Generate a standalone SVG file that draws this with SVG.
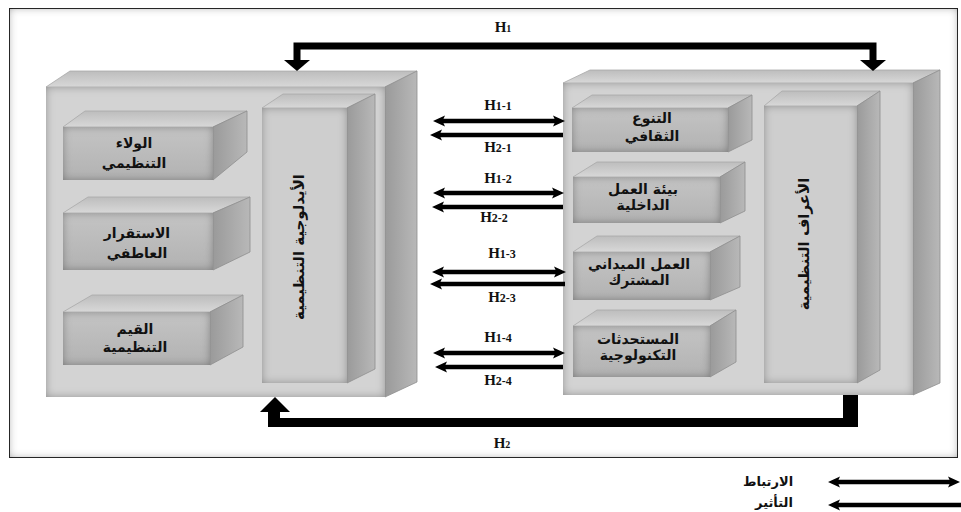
<svg xmlns="http://www.w3.org/2000/svg" width="961" height="512" viewBox="0 0 961 512">
<defs>
<filter id="inner" x="0" y="0" width="1" height="1">
<feGaussianBlur in="SourceAlpha" stdDeviation="4" result="b"/>
<feComposite in="SourceAlpha" in2="b" operator="arithmetic" k2="1" k3="-1" result="edge"/>
<feFlood flood-color="#000" flood-opacity="0.6"/>
<feComposite in2="edge" operator="in" result="sh"/>
<feMerge><feMergeNode in="SourceGraphic"/><feMergeNode in="sh"/></feMerge>
</filter>
<filter id="frameSh" x="0" y="0" width="1" height="1">
<feGaussianBlur in="SourceAlpha" stdDeviation="5" result="b"/>
<feComposite in="SourceAlpha" in2="b" operator="arithmetic" k2="1" k3="-1" result="edge"/>
<feFlood flood-color="#000" flood-opacity="0.8"/>
<feComposite in2="edge" operator="in" result="sh"/>
<feMerge><feMergeNode in="SourceGraphic"/><feMergeNode in="sh"/></feMerge>
</filter>
<linearGradient id="topG" x1="0" y1="0" x2="0" y2="1">
<stop offset="0" stop-color="#bdbdbd"/><stop offset="1" stop-color="#d8d8d8"/>
</linearGradient>
<linearGradient id="sideG" x1="0" y1="0" x2="1" y2="0">
<stop offset="0" stop-color="#9a9a9a"/><stop offset="1" stop-color="#b8b8b8"/>
</linearGradient>
<linearGradient id="smallFront" x1="0" y1="0" x2="0" y2="1">
<stop offset="0" stop-color="#c4c4c4"/><stop offset="1" stop-color="#b2b2b2"/>
</linearGradient>
<marker id="ah" viewBox="0 0 12 12" refX="4" refY="6" markerWidth="12" markerHeight="12" orient="auto-start-reverse" markerUnits="userSpaceOnUse">
<path d="M0,0.5 L12,6 L0,11.5 L2.5,6 z" fill="#000"/>
</marker>
<style>
.front{fill:#d3d3d3;filter:url(#inner)}
.pfront{fill:#cecece;filter:url(#inner)}
.sfront{fill:url(#smallFront);filter:url(#inner)}
.top{fill:url(#topG);stroke:#a8a8a8;stroke-width:0.8}
.side{fill:url(#sideG);stroke:#8e8e8e;stroke-width:0.8}
.ar{font-family:"DejaVu Sans","Noto Sans",sans-serif;font-weight:bold;font-size:14px;fill:#111;text-anchor:middle}
.vt{font-family:"DejaVu Sans","Noto Sans",sans-serif;font-weight:bold;font-size:15px;fill:#111;text-anchor:middle;dominant-baseline:central}
.h{font-family:"Liberation Serif",serif;font-weight:bold;font-size:15px;fill:#111;text-anchor:middle}
.thin{stroke:#000;stroke-width:4.5;fill:none}
</style>
</defs>
<rect x="0" y="0" width="961" height="512" fill="#fff"/>
<rect id="frame" x="9" y="8" width="949" height="450" fill="#fff" stroke="#333" stroke-width="2" filter="url(#frameSh)"/>

<g id="left-box">
<polygon class="top" points="46,87 70,71 417,71 385,87"/>
<polygon class="side" points="385,87 417,71 417,382 385,397"/>
<rect class="front" x="46" y="87" width="339" height="310"/>
</g>
<g id="left-pillar">
<polygon class="top" points="262,108 283,94 375,94 347,108"/>
<polygon class="side" points="347,108 375,94 375,369 347,383"/>
<rect class="pfront" x="262" y="108" width="85" height="275"/>
<text class="vt" transform="translate(299,247) rotate(-90)">الأيدلوجية التنظيمية</text>
</g>
<g id="loyalty">
<polygon class="top" points="63,127 85,111 247,111 213,127"/>
<polygon class="side" points="213,127 247,111 247,152 213,180"/>
<rect class="sfront" x="63" y="127" width="150" height="53"/>
<text class="ar" x="134" y="148">الولاء</text>
<text class="ar" x="134" y="168">التنظيمي</text>
</g>
<g id="stability">
<polygon class="top" points="63,213 88,197 250,197 213,213"/>
<polygon class="side" points="213,213 250,197 250,252 213,270"/>
<rect class="sfront" x="63" y="213" width="150" height="57"/>
<text class="ar" x="137" y="238">الاستقرار</text>
<text class="ar" x="137" y="258">العاطفي</text>
</g>
<g id="values">
<polygon class="top" points="63,312 92,295 243,295 210,312"/>
<polygon class="side" points="210,312 243,295 243,347 210,365"/>
<rect class="sfront" x="63" y="312" width="147" height="53"/>
<text class="ar" x="135" y="334">القيم</text>
<text class="ar" x="135" y="352">التنظيمية</text>
</g>

<g id="right-box">
<polygon class="top" points="563,83 590,70 940,70 913,83"/>
<polygon class="side" points="913,83 940,70 940,383 913,395"/>
<rect class="front" x="563" y="83" width="350" height="312"/>
</g>
<g id="right-pillar">
<polygon class="top" points="764,106 782,91 880,91 857,106"/>
<polygon class="side" points="857,106 880,91 880,370 857,383"/>
<rect class="pfront" x="764" y="106" width="93" height="277"/>
<text class="vt" transform="translate(804,244) rotate(-90)">الأعراف التنظيمية</text>
</g>
<g id="diversity">
<polygon class="top" points="572,108 592,95 752,95 728,108"/>
<polygon class="side" points="728,108 752,95 752,140 728,152"/>
<rect class="sfront" x="572" y="108" width="156" height="44"/>
<text class="ar" x="652" y="123">التنوع</text>
<text class="ar" x="652" y="141">الثقافي</text>
</g>
<g id="environment">
<polygon class="top" points="573,177 597,162 745,162 720,177"/>
<polygon class="side" points="720,177 745,162 745,211 720,223"/>
<rect class="sfront" x="573" y="177" width="147" height="46"/>
<text class="ar" x="643" y="194">بيئة العمل</text>
<text class="ar" x="643" y="210">الداخلية</text>
</g>
<g id="fieldwork">
<polygon class="top" points="573,252 597,236 740,236 710,252"/>
<polygon class="side" points="710,252 740,236 740,287 710,300"/>
<rect class="sfront" x="573" y="252" width="137" height="48"/>
<text class="ar" x="639" y="269">العمل الميداني</text>
<text class="ar" x="639" y="285">المشترك</text>
</g>
<g id="technology">
<polygon class="top" points="573,326 597,310 736,310 710,326"/>
<polygon class="side" points="710,326 736,310 736,362 710,377"/>
<rect class="sfront" x="573" y="326" width="137" height="51"/>
<text class="ar" x="638" y="344">المستحدثات</text>
<text class="ar" x="638" y="360">التكنولوجية</text>
</g>

<g id="connectors">
<path d="M297,60 V46 H873 V60" stroke="#000" stroke-width="7" fill="none"/>
<polygon points="284,60 310,60 297,71"/>
<polygon points="860,60 886,60 873,71"/>
<path d="M850.5,395 V422.5 H274 V412" stroke="#000" stroke-width="9" fill="none"/>
<rect x="843" y="395" width="15" height="32"/>
<rect x="268" y="410" width="12" height="17"/>
<polygon points="260,412 290,412 275,397"/>

<line class="thin" x1="441" y1="121" x2="557" y2="121" marker-start="url(#ah)" marker-end="url(#ah)"/>
<line class="thin" x1="438" y1="135" x2="563" y2="135" marker-start="url(#ah)"/>
<line class="thin" x1="441" y1="193" x2="556" y2="193" marker-start="url(#ah)" marker-end="url(#ah)"/>
<line class="thin" x1="440" y1="207" x2="563" y2="207" marker-start="url(#ah)"/>
<line class="thin" x1="440" y1="272" x2="558" y2="272" marker-start="url(#ah)" marker-end="url(#ah)"/>
<line class="thin" x1="438" y1="284" x2="565" y2="284" marker-start="url(#ah)"/>
<line class="thin" x1="441" y1="353" x2="557" y2="353" marker-start="url(#ah)" marker-end="url(#ah)"/>
<line class="thin" x1="443" y1="367" x2="563" y2="367" marker-start="url(#ah)"/>

<line class="thin" x1="836" y1="482" x2="952" y2="482" marker-start="url(#ah)" marker-end="url(#ah)"/>
<line class="thin" x1="836" y1="505" x2="961" y2="505" marker-start="url(#ah)"/>
</g>

<g id="labels">
<text class="h" x="503" y="32">H<tspan font-size="10">1</tspan></text>
<text class="h" x="502" y="448">H<tspan font-size="10">2</tspan></text>
<text class="h" x="498" y="110">H<tspan font-size="12">1-1</tspan></text>
<text class="h" x="498" y="152">H<tspan font-size="12">2-1</tspan></text>
<text class="h" x="498" y="183">H<tspan font-size="12">1-2</tspan></text>
<text class="h" x="494" y="222">H<tspan font-size="12">2-2</tspan></text>
<text class="h" x="502" y="258">H<tspan font-size="12">1-3</tspan></text>
<text class="h" x="502" y="302">H<tspan font-size="12">2-3</tspan></text>
<text class="h" x="498" y="342">H<tspan font-size="12">1-4</tspan></text>
<text class="h" x="498" y="385">H<tspan font-size="12">2-4</tspan></text>
</g>

<g id="legend">
<text class="ar" x="768" y="486" style="font-size:13px">الارتباط</text>
<text class="ar" x="774" y="507" style="font-size:13px">التأثير</text>
</g>
</svg>
